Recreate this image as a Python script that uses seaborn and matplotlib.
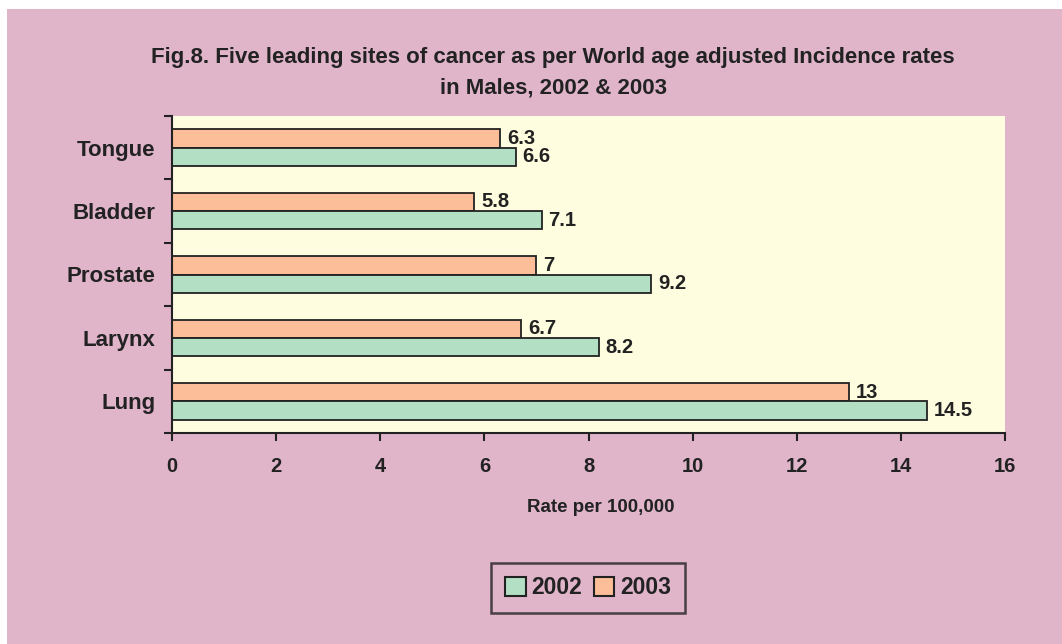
import matplotlib.pyplot as plt
import matplotlib.patches as mpatches
from matplotlib.ticker import FixedLocator
import pandas as pd
import seaborn as sns

sites = ["Tongue", "Bladder", "Prostate", "Larynx", "Lung"]
rate_2002 = [6.6, 7.1, 9.2, 8.2, 14.5]
rate_2003 = [6.3, 5.8, 7.0, 6.7, 13.0]
years = ["2002", "2003"]
colors = {"2002": "#B3DFC5", "2003": "#FBBE99"}

df = pd.DataFrame({
    "site": sites * 2,
    "year": ["2002"] * 5 + ["2003"] * 5,
    "rate": rate_2002 + rate_2003,
})

sns.set_style("white")
plt.rcParams["font.family"] = ["Liberation Sans", "DejaVu Sans"]
plt.rcParams["font.weight"] = "bold"

fig = plt.figure(figsize=(10.62, 6.44), dpi=100)
fig.patch.set_facecolor("white")
fig.patches.append(mpatches.Rectangle((7 / 1062, 0), 1, (644 - 9) / 644,
                                      transform=fig.transFigure,
                                      facecolor="#E0B5CA", edgecolor="none", zorder=-10))

ax = fig.add_axes([172 / 1062, (644 - 433) / 644, (1005 - 172) / 1062, (433 - 116) / 644])
ax.set_facecolor("#FFFDE0")

# 2003 drawn first so it sits above 2002 in each group
sns.barplot(data=df, y="site", x="rate", hue="year", order=sites,
            hue_order=["2003", "2002"], palette=colors, width=0.58, saturation=1,
            edgecolor="#222222", linewidth=1.3, orient="h", ax=ax, legend=False)

for cont in ax.containers:
    labels = ["%g" % v for v in cont.datavalues]
    ax.bar_label(cont, labels=labels, padding=5, fontsize=14.5, fontweight="bold", color="#222222")

ax.set_xlim(0, 16)
ax.set_xticks(range(0, 17, 2))
ax.set_ylim(4.5, -0.5)
ax.yaxis.set_minor_locator(FixedLocator([i - 0.5 for i in range(6)]))
ax.tick_params(axis="y", which="major", left=False, length=0, pad=12, labelsize=16)
ax.tick_params(axis="y", which="minor", left=True, length=6, width=1.5, color="#222222", direction="out")
ax.tick_params(axis="x", bottom=True, length=6, width=1.5, color="#222222", direction="out", pad=11, labelsize=14.5)
for lab in ax.get_xticklabels() + ax.get_yticklabels():
    lab.set_fontweight("bold")
    lab.set_color("#222222")

sns.despine(ax=ax, top=True, right=True)
for s in ["left", "bottom"]:
    ax.spines[s].set_color("#222222")
    ax.spines[s].set_linewidth(1.5)

ax.set_ylabel("")
ax.set_xlabel("Rate per 100,000", fontsize=13.5, fontweight="bold", color="#222222")
ax.xaxis.set_label_coords((601 - 172) / 833, -(499 - 433) / 317)

fig.text(553 / 1062, 1 - 58 / 644, "Fig.8. Five leading sites of cancer as per World age adjusted Incidence rates",
         ha="center", va="center", fontsize=16, fontweight="bold", color="#222222")
fig.text(553 / 1062, 1 - 88 / 644, "in Males, 2002 & 2003",
         ha="center", va="center", fontsize=16, fontweight="bold", color="#222222")

handles = [mpatches.Patch(facecolor=colors[y], edgecolor="#222222", linewidth=1.5, label=y) for y in years]
leg = fig.legend(handles=handles, loc="center", bbox_to_anchor=(588 / 1062, 1 - 588 / 644),
                 ncol=2, frameon=True, fancybox=False, handlelength=0.9,
                 handleheight=0.9, handletextpad=0.25, columnspacing=0.5, borderpad=0.6,
                 prop={"weight": "bold", "size": 16.5})
leg.get_frame().set_edgecolor("#222222")
leg.get_frame().set_linewidth(1.8)
leg.get_frame().set_facecolor("#E0B5CA")
for t in leg.get_texts():
    t.set_color("#222222")

fig.savefig("out.png", dpi=100, facecolor=fig.get_facecolor())
